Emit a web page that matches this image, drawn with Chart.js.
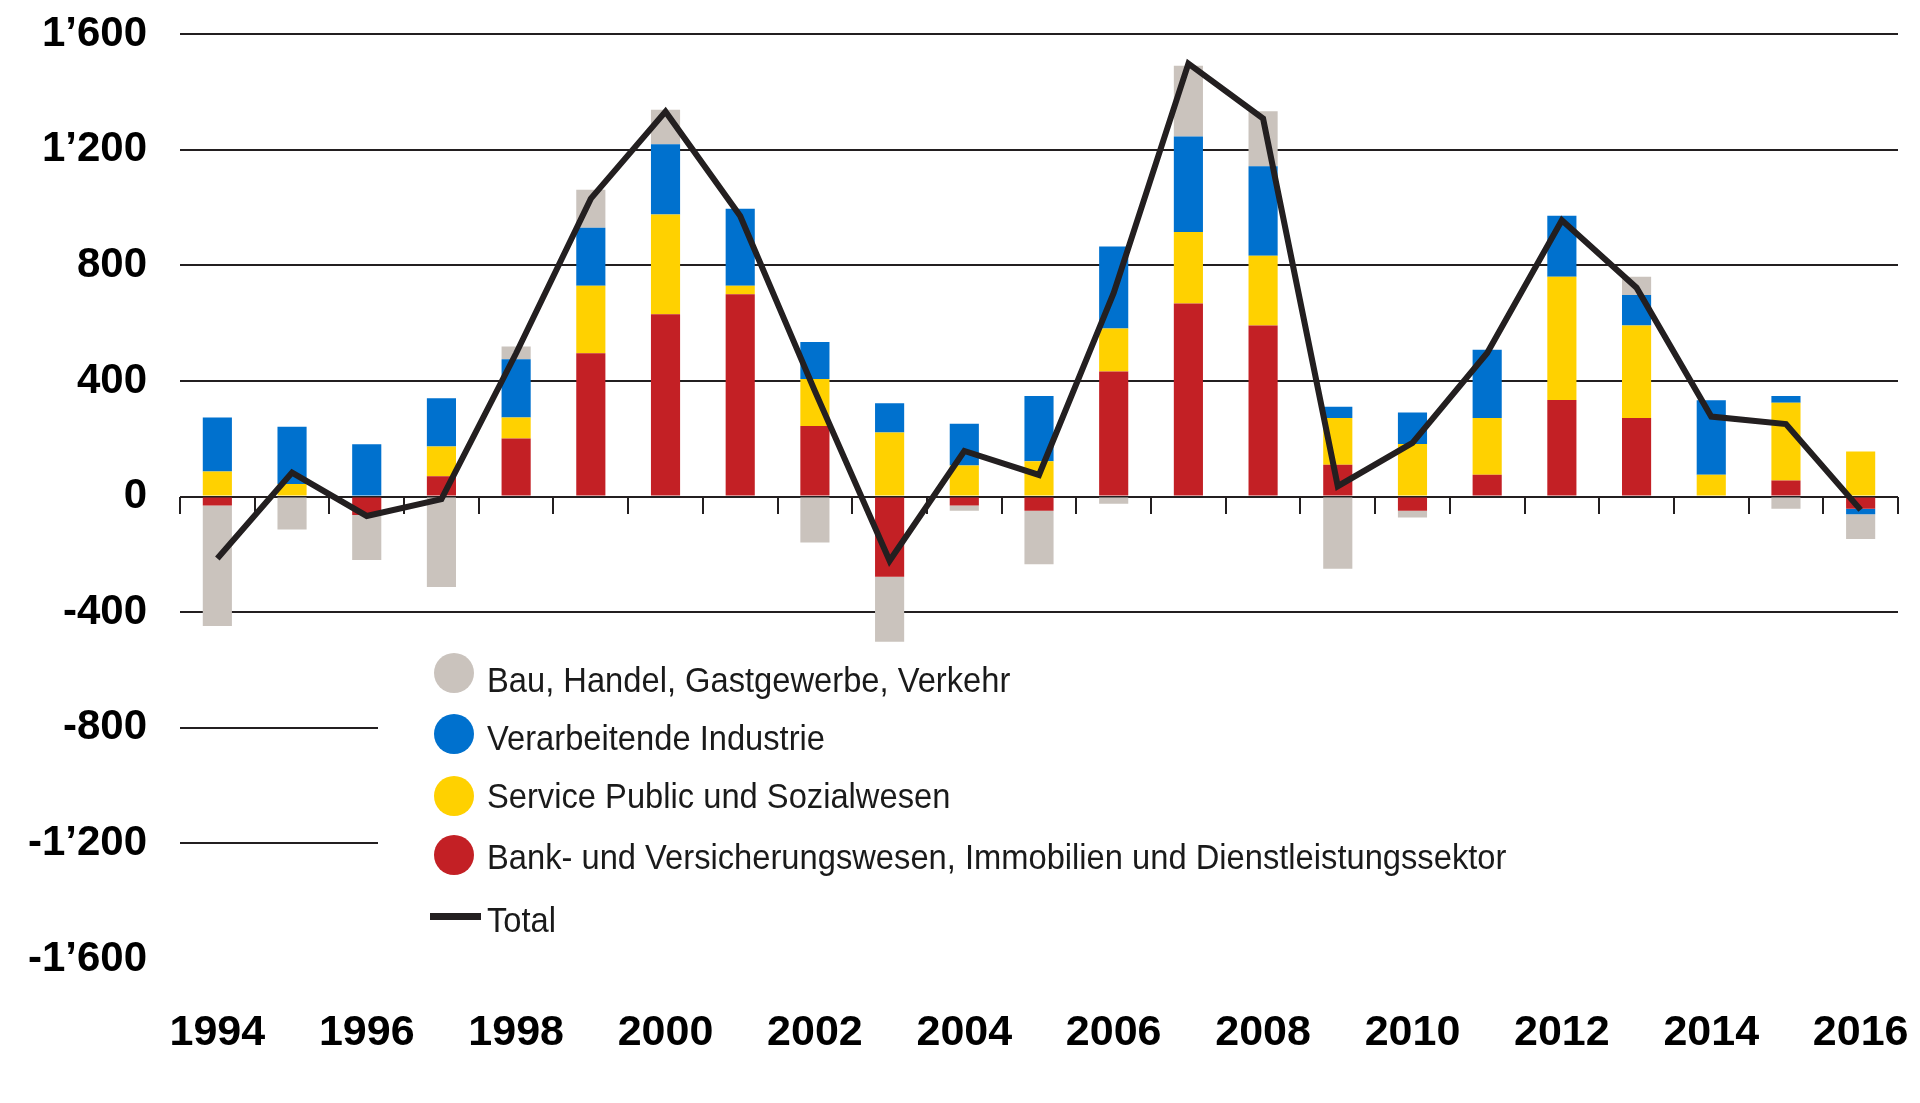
<!DOCTYPE html>
<html lang="de">
<head>
<meta charset="utf-8">
<title>Beschäftigung nach Branchen</title>
<script src="https://cdn.jsdelivr.net/npm/chart.js@4.4.1/dist/chart.umd.min.js"></script>
<style>
  html, body { margin: 0; padding: 0; background: #ffffff; }
  #wrap { width: 1920px; height: 1103px; position: relative; }
  canvas { display: block; }
</style>
</head>
<body>
<div id="wrap"><canvas id="c" width="1920" height="1103"></canvas></div>
<script>
// ---- Data ----
const years = ['1994','1995','1996','1997','1998','1999','2000','2001','2002','2003','2004','2005',
               '2006','2007','2008','2009','2010','2011','2012','2013','2014','2015','2016'];

const seriesNames = {
  bau: 'Bau, Handel, Gastgewerbe, Verkehr',
  industrie: 'Verarbeitende Industrie',
  service: 'Service Public und Sozialwesen',
  bank: 'Bank- und Versicherungswesen, Immobilien und Dienstleistungssektor',
  total: 'Total'
};

const bank      = [-31, 0, -64, 70, 201, 496, 631, 700, 244, -277, -31, -49, 433, 668, 592, 110, -49, 76, 334, 272, 0, 56, -42];
const service   = [87, 44, 0, 103, 73, 234, 345, 30, 163, 222, 108, 122, 149, 248, 241, 162, 182, 196, 427, 320, 76, 269, 156];
const industrie = [187, 198, 181, 167, 201, 200, 243, 266, 128, 101, 144, 226, 283, 330, 310, 39, 109, 236, 211, 106, 257, 23, -19];
const bau       = [-417, -114, -155, -313, 44, 132, 120, 0, -159, -225, -18, -185, -25, 245, 190, -250, -23, 0, 0, 63, 0, -42, -86];
const total     = [-214, 83, -67, -9, 496, 1031, 1332, 971, 365, -222, 158, 75, 705, 1498, 1308, 36, 186, 497, 956, 723, 277, 251, -46];

const yMin = -1600, yMax = 1600, yStep = 400;

// ---- Styles ----
const colors = {
  bau: '#cac3bd',
  industrie: '#0071ce',
  service: '#ffd100',
  bank: '#c32025',
  total: '#231f20',
  grid: '#231f20'
};

function fmt(v) {
  const sign = v < 0 ? '-' : '';
  const s = String(Math.abs(v));
  return sign + s.replace(/\B(?=(\d{3})+(?!\d))/g, '\u2019');
}

// legend (drawn on canvas) + hiding grid under legend area
const legendPlugin = {
  id: 'customLegend',
  beforeDatasetsDraw(chart) {
    const {ctx, chartArea, scales} = chart;
    const yTop = scales.y.getPixelForValue(-600);
    ctx.save();
    ctx.fillStyle = '#ffffff';
    ctx.fillRect(chartArea.left + 198, yTop, chartArea.right - chartArea.left, chartArea.bottom - yTop + 10);
    ctx.restore();
  },
  afterDraw(chart) {
    const {ctx} = chart;
    const byKey = {};
    chart.data.datasets.forEach(d => { byKey[d.key] = d; });
    const items = ['bau', 'industrie', 'service', 'bank'];
    const circleY = [673, 734, 796, 855];
    const textBase = [692, 750, 808, 869, 932];
    const cx = 454, textX = 487, sx = 0.934;
    ctx.save();
    items.forEach((k, i) => {
      ctx.beginPath();
      ctx.arc(cx, circleY[i], 20, 0, Math.PI * 2);
      ctx.fillStyle = byKey[k].backgroundColor;
      ctx.fill();
    });
    // total line marker
    ctx.beginPath();
    ctx.moveTo(430, 916.5);
    ctx.lineTo(481, 916.5);
    ctx.lineWidth = 7;
    ctx.strokeStyle = colors.total;
    ctx.stroke();

    ctx.fillStyle = '#1a1a1a';
    ctx.font = '35px "Liberation Sans", Arial, sans-serif';
    ctx.textBaseline = 'alphabetic';
    ctx.textAlign = 'left';
    const labels = items.map(k => byKey[k].label).concat([byKey.total.label]);
    labels.forEach((t, i) => {
      ctx.save();
      ctx.translate(textX, textBase[i]);
      ctx.scale(sx, 1);
      ctx.fillText(t, 0, 0);
      ctx.restore();
    });
    ctx.restore();
  }
};

const barCommon = { stack: 'bars', order: 1, borderWidth: 0, barPercentage: 0.39, categoryPercentage: 1.0 };

const chart = new Chart(document.getElementById('c'), {
  type: 'bar',
  data: {
    labels: years,
    datasets: [
      Object.assign({ key: 'bank', label: seriesNames.bank, data: bank, backgroundColor: colors.bank }, barCommon),
      Object.assign({ key: 'service', label: seriesNames.service, data: service, backgroundColor: colors.service }, barCommon),
      Object.assign({ key: 'industrie', label: seriesNames.industrie, data: industrie, backgroundColor: colors.industrie }, barCommon),
      Object.assign({ key: 'bau', label: seriesNames.bau, data: bau, backgroundColor: colors.bau }, barCommon),
      {
        key: 'total', type: 'line', label: seriesNames.total, data: total, stack: 'total', order: 0,
        borderColor: colors.total, borderWidth: 6, pointRadius: 0, tension: 0, fill: false,
        borderJoinStyle: 'miter'
      }
    ]
  },
  options: {
    responsive: false,
    devicePixelRatio: 1,
    animation: false,
    layout: { padding: { top: 34, right: 22, left: 0, bottom: 0 } },
    plugins: { legend: { display: false }, tooltip: { enabled: false } },
    scales: {
      x: {
        type: 'category',
        offset: true,
        stacked: true,
        grid: {
          display: true, drawOnChartArea: false, drawTicks: true, tickLength: 40,
          color: 'rgba(0,0,0,0)', tickColor: 'rgba(0,0,0,0)'
        },
        border: { display: false },
        ticks: {
          autoSkip: false,
          maxRotation: 0,
          padding: 8,
          color: '#000000',
          font: { family: '"Liberation Sans", Arial, sans-serif', size: 43, weight: 'bold' },
          callback: function (v, i) { return i % 2 === 0 ? years[i] : ''; }
        },
        afterFit: function (s) { s.height = 144; }
      },
      x2: {
        type: 'category',
        position: { y: 0 },
        offset: true,
        grid: { offset: true, drawOnChartArea: false, drawTicks: true, tickLength: 17, color: colors.grid, lineWidth: 2 },
        border: { display: false },
        ticks: { display: false }
      },
      y: {
        type: 'linear',
        stacked: true,
        min: yMin,
        max: yMax,
        ticks: {
          stepSize: yStep,
          padding: 9,
          color: '#000000',
          font: { family: '"Liberation Sans", Arial, sans-serif', size: 42, weight: 'bold' },
          callback: function (v) { return fmt(v); }
        },
        grid: {
          drawTicks: true,
          tickLength: 24,
          tickColor: 'rgba(0,0,0,0)',
          lineWidth: 2,
          color: function (c) { return (c.tick && c.tick.value === yMin) ? 'rgba(0,0,0,0)' : colors.grid; }
        },
        border: { display: false },
        afterFit: function (s) { s.width = 180; }
      }
    }
  },
  plugins: [legendPlugin]
});
</script>
</body>
</html>
